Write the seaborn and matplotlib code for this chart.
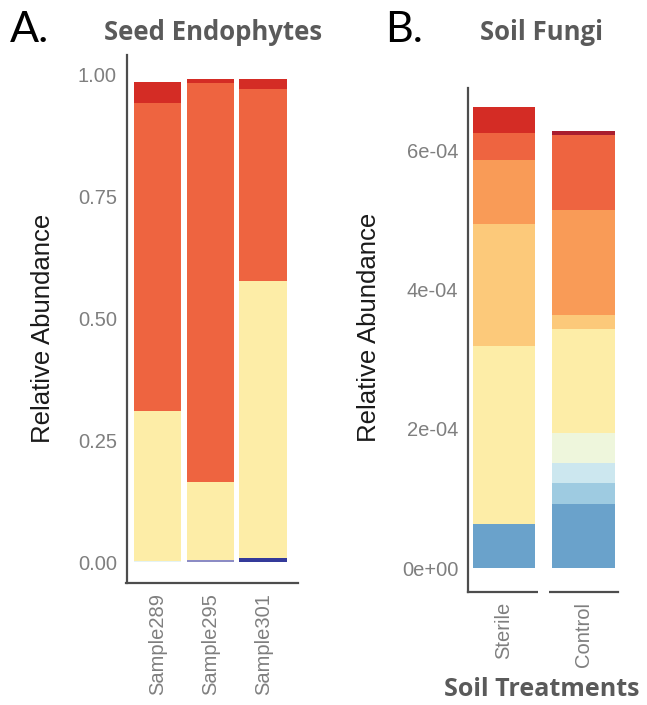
import numpy as np
import pandas as pd
import seaborn as sns
import matplotlib
matplotlib.use("Agg")
import matplotlib.pyplot as plt

# panel A: seed endophytes, relative abundance per sample (layers bottom -> top)
samples = ["Sample289", "Sample295", "Sample301"]
a_dark_blue = [0.000, 0.000, 0.009]
a_lavender = [0.000, 0.005, 0.000]
a_pale_blue = [0.003, 0.000, 0.000]
a_yellow = [0.307, 0.159, 0.568]
a_orange = [0.633, 0.820, 0.394]
a_red = [0.043, 0.008, 0.021]
a_colors = ["#343A9A", "#8C8CC4", "#E4F2F5", "#FDEDA7", "#EE6440", "#D42C25"]

# panel B: soil fungi per treatment (layers bottom -> top, units 1e-4)
treatments = ["Sterile", "Control"]
b_blue = [0.63, 0.92]
b_mid_blue = [0.00, 0.30]
b_light_blue = [0.00, 0.29]
b_pale_green = [0.00, 0.43]
b_yellow = [2.56, 1.50]
b_peach = [1.76, 0.20]
b_light_orange = [0.92, 1.51]
b_orange = [0.39, 1.08]
b_red = [0.37, 0.00]
b_dark_red = [0.00, 0.06]
b_colors = ["#6AA2CB", "#9ECBE1", "#CCE7EF", "#EEF6DC", "#FDEDA7",
            "#FCC97A", "#F99B57", "#EE6440", "#D42C25", "#A91D2E"]

tick_grey = "#7F7F7F"
axis_grey = "#4D4D4D"
title_grey = "#5A5A5A"
title_font = ["Open Sans", "DejaVu Sans"]


def stacked(ax, cats, layers, colors, width):
    # seaborn has no stacking, so draw cumulative totals from the top layer down
    cum = np.cumsum(np.array(layers), axis=0)
    for i in range(len(layers) - 1, -1, -1):
        df = pd.DataFrame({"cat": cats, "val": cum[i]})
        sns.barplot(data=df, x="cat", y="val", color=colors[i], width=width,
                    saturation=1, ax=ax, order=cats, linewidth=0, edgecolor="none")


def style_axis(ax):
    for s in ["top", "right"]:
        ax.spines[s].set_visible(False)
    for s in ["left", "bottom"]:
        ax.spines[s].set_color(axis_grey)
        ax.spines[s].set_linewidth(1.6)
    ax.tick_params(axis="both", colors=axis_grey, labelcolor=tick_grey,
                   labelsize=14.5, length=3.5, width=1.2)
    ax.tick_params(axis="x", labelrotation=90)
    ax.set_xlabel("")


sns.set_style("white")
plt.rcParams["font.family"] = ["Liberation Sans", "DejaVu Sans"]

fig = plt.figure(figsize=(6.47, 7.05), dpi=100)

# panel A
ax1 = fig.add_axes([126.5 / 647, 0.173, 171.5 / 647, 0.749])
stacked(ax1, samples, [a_dark_blue, a_lavender, a_pale_blue, a_yellow, a_orange, a_red],
        a_colors, 0.9)
ax1.set_xlim(-0.588, 2.66)
ax1.set_ylim(-0.043, 1.041)
ax1.set_yticks([0, 0.25, 0.5, 0.75, 1.0])
ax1.set_yticklabels(["0.00", "0.25", "0.50", "0.75", "1.00"])
style_axis(ax1)
ax1.set_ylabel("Relative Abundance", fontsize=18.5, color="#1A1A1A")
ax1.yaxis.set_label_coords(-0.417, 0.483)

# panel B
ax2 = fig.add_axes([468 / 647, 0.1603, 150 / 647, 0.715])
stacked(ax2, treatments, [b_blue, b_mid_blue, b_light_blue, b_pale_green, b_yellow,
                          b_peach, b_light_orange, b_orange, b_red, b_dark_red],
        b_colors, 0.78)
ax2.set_xlim(-0.453, 1.434)
ax2.set_ylim(-0.345, 6.906)
ax2.set_yticks([0, 2, 4, 6])
ax2.set_yticklabels(["0e+00", "2e-04", "4e-04", "6e-04"])
style_axis(ax2)
ax2.set_ylabel("Relative Abundance", fontsize=18.5, color="#1A1A1A")
ax2.yaxis.set_label_coords(-0.58, 0.524)
# little break in the x axis line between the two bars
ax2.plot([0.43, 0.57], [0, 0], transform=ax2.get_xaxis_transform(), color="white",
         lw=3, clip_on=False, zorder=5, solid_capstyle="butt")

# titles and panel letters
fig.text(10 / 647, 1 - 30 / 705, "A.", fontsize=31, family=["Lato", "DejaVu Sans"],
         ha="left", va="center", color="black")
fig.text(213 / 647, 1 - 32 / 705, "Seed Endophytes", fontsize=18.5, fontweight="bold",
         family=title_font, ha="center", va="center", color=title_grey)
fig.text(385 / 647, 1 - 30 / 705, "B.", fontsize=31, family=["Lato", "DejaVu Sans"],
         ha="left", va="center", color="black")
fig.text(542 / 647, 1 - 32 / 705, "Soil Fungi", fontsize=18.5, fontweight="bold",
         family=title_font, ha="center", va="center", color=title_grey)
fig.text(542 / 647, 1 - 690 / 705, "Soil Treatments", fontsize=18, fontweight="bold",
         family=title_font, ha="center", va="center", color=title_grey)

fig.savefig("out.png", dpi=100)
